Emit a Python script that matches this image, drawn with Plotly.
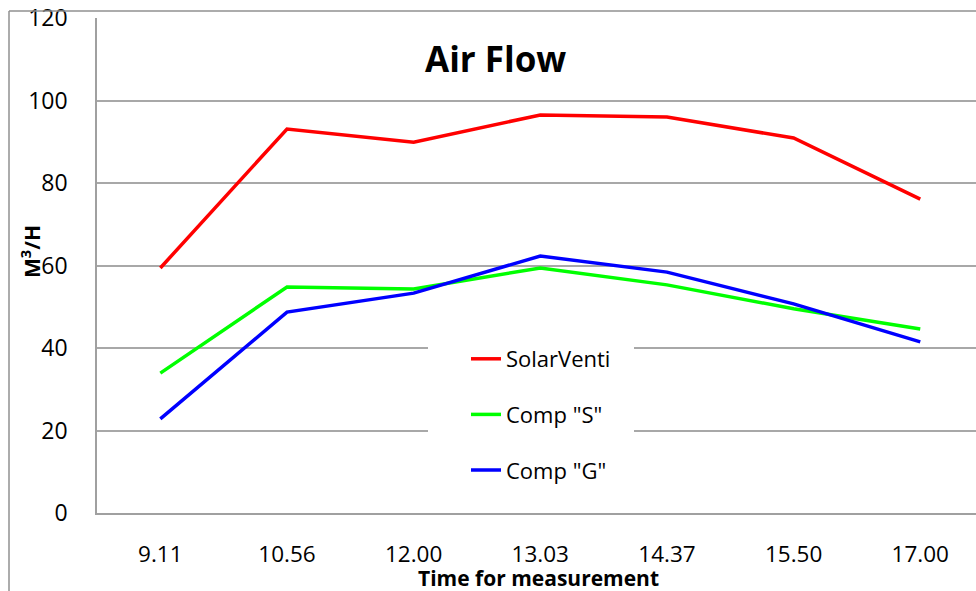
import plotly.graph_objects as go

times = ["9.11", "10.56", "12.00", "13.03", "14.37", "15.50", "17.00"]
solarventi = [59.4, 93.1, 89.9, 96.5, 96.0, 90.9, 76.1]
comp_s = [33.9, 54.8, 54.3, 59.4, 55.3, 49.5, 44.6]
comp_g = [22.8, 48.7, 53.3, 62.3, 58.4, 50.7, 41.5]
y_ticks = [0, 20, 40, 60, 80, 100, 120]

FONT = "Open Sans"
W, H = 976, 591
L, R, T, B = 97, 0, 18, 78
pw, ph = W - L - R, H - T - B

def px(x):
    return (x - L) / pw

def py(y):
    return (H - B - y) / ph

fig = go.Figure()
series = [("SolarVenti", solarventi, "#FF0000"),
          ('Comp "S"', comp_s, "#00FF00"),
          ('Comp "G"', comp_g, "#0000FF")]
for name, vals, col in series:
    fig.add_trace(go.Scatter(x=times, y=vals, name=name, mode="lines",
                             line=dict(color=col, width=3.5),
                             legendgroup=name))

fig.update_layout(
    width=W, height=H,
    margin=dict(l=L, r=R, t=T, b=B),
    paper_bgcolor="white", plot_bgcolor="white",
    font=dict(family=FONT, size=22, color="black"),
    showlegend=True,
    legend=dict(x=px(466), y=py(338), xanchor="left", yanchor="top",
                bgcolor="rgba(0,0,0,0)", traceorder="grouped",
                tracegroupgap=24, font=dict(size=22, family=FONT),
                itemwidth=30),
    xaxis=dict(type="category", range=[-0.5, 6.44], showgrid=False,
               showline=True, linecolor="#a0a0a0", linewidth=1.5,
               ticks="", ticklabelstandoff=20, tickfont=dict(size=22.5)),
    yaxis=dict(range=[0, 120], tickvals=y_ticks, showgrid=True,
               gridcolor="#a8a8a8", gridwidth=1.5, showline=True,
               linecolor="#a0a0a0", linewidth=1.5, zeroline=False,
               ticks="", ticklabelstandoff=23, tickfont=dict(size=23)),
    shapes=[
        dict(type="rect", xref="paper", yref="paper",
             x0=px(428), x1=px(634), y0=py(337), y1=py(505),
             fillcolor="white", line=dict(width=0), layer="above"),
        dict(type="line", xref="paper", yref="paper",
             x0=px(9), x1=px(9), y0=py(11), y1=py(600),
             line=dict(color="#909090", width=1.5)),
        dict(type="line", xref="paper", yref="paper",
             x0=px(9), x1=px(980), y0=py(11), y1=py(11),
             line=dict(color="#909090", width=1.5)),
    ],
    annotations=[
        dict(text="<b>Air Flow</b>", xref="paper", yref="paper",
             x=px(495), y=py(59), xanchor="center", yanchor="middle",
             showarrow=False, font=dict(size=35, family=FONT)),
        dict(text="<b>Time for measurement</b>", xref="paper", yref="paper",
             x=px(538), y=py(578), xanchor="center", yanchor="middle",
             showarrow=False, font=dict(size=21, family=FONT)),
        dict(text="<b>M<sup>3</sup>/H</b>", xref="paper", yref="paper",
             x=px(30), y=py(252), xanchor="center", yanchor="middle",
             textangle=-90, showarrow=False, font=dict(size=21, family=FONT)),
    ],
)

fig.write_html("out.html", config={"displayModeBar": False},
               post_script="document.body.style.margin='0';document.body.style.padding='0';")
